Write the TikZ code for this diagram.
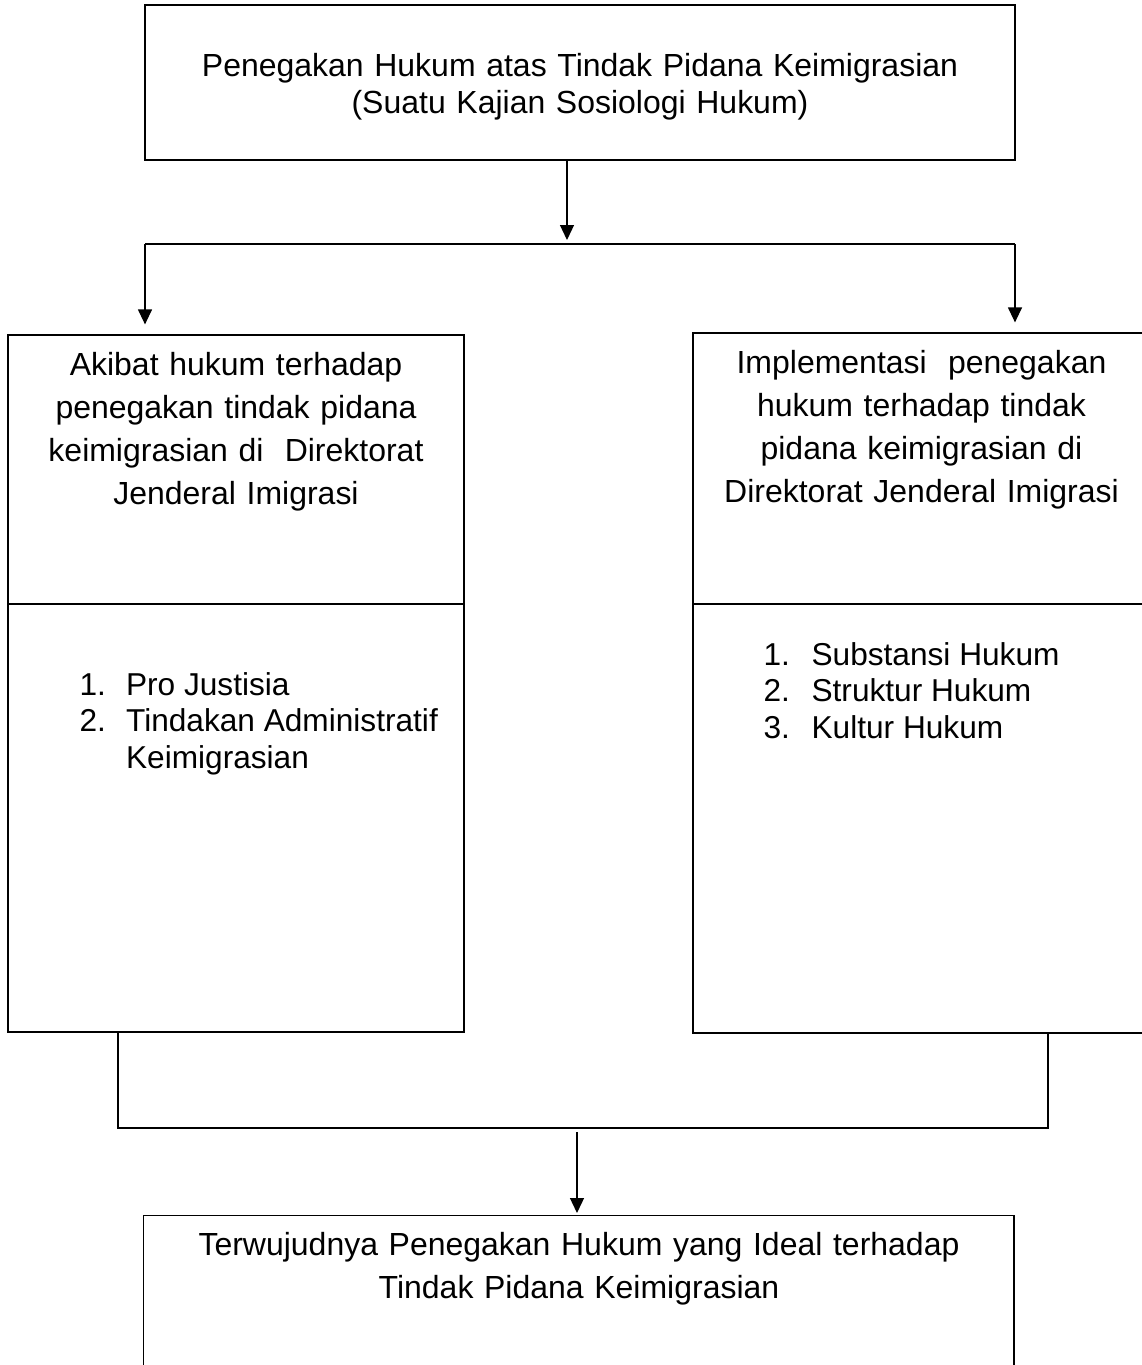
\documentclass[tikz,border=0pt]{standalone}
\usepackage{fontspec}
\setmainfont{Liberation Sans}
\usetikzlibrary{arrows.meta}

\begin{document}
\begin{tikzpicture}[line width=0.7pt,
    kotak/.style = {draw, rectangle, inner sep=0pt},
    teks/.style = {inner sep=0pt, align=center, font=\fontsize{18.2}{24.5}\selectfont},
    daftar/.style = {inner sep=0pt, anchor=base west, font=\fontsize{18}{20.8}\selectfont},
    panah/.style = {-{Triangle[length=0.3cm,width=0.28cm]}}]
\useasboundingbox (0,0) rectangle (22.84,-27.3);

\node[kotak, minimum width=17.4cm, minimum height=3.1cm] (judul) at (11.6,-1.65) {};
\node[teks, text width=17cm, anchor=base, font=\fontsize{18.2}{21.1}\selectfont] (judulteks) at (11.6,-1.52)
    {Penegakan Hukum atas Tindak Pidana Keimigrasian\\(Suatu Kajian Sosiologi Hukum)};

\node[kotak, minimum width=9.12cm, minimum height=5.38cm] (kiriatas) at (4.72,-9.39) {};
\node[kotak, minimum width=9.12cm, minimum height=8.56cm] (kiribawah) at (4.72,-16.36) {};
\node[kotak, minimum width=9.14cm, minimum height=5.42cm] (kananatas) at (18.43,-9.37) {};
\node[kotak, minimum width=9.14cm, minimum height=8.58cm] (kananbawah) at (18.43,-16.37) {};

\node[teks, text width=9cm, anchor=base] (kiriteks) at (4.72,-7.5)
    {Akibat hukum terhadap\\penegakan tindak pidana\\keimigrasian di\ \ Direktorat\\Jenderal Imigrasi};
\node[teks, text width=9cm, anchor=base] (kananteks) at (18.43,-7.46)
    {Implementasi\ \ penegakan\\hukum terhadap tindak\\pidana keimigrasian di\\Direktorat Jenderal Imigrasi};

\node[daftar] (kiridaftar) at (1.58,-13.9)
    {\begin{tabular}[t]{@{}p{0.93cm}@{}l@{}}
     1. & Pro Justisia\\
     2. & Tindakan Administratif\\
        & Keimigrasian
     \end{tabular}};
\node[daftar] (kanandaftar) at (15.26,-13.3)
    {\begin{tabular}[t]{@{}p{0.96cm}@{}l@{}}
     1. & Substansi Hukum\\
     2. & Struktur Hukum\\
     3. & Kultur Hukum
     \end{tabular}};

\node[kotak, minimum width=17.41cm, minimum height=3.7cm, anchor=north] (tujuan) at (11.575,-24.3) {};
\node[teks, text width=17cm, anchor=base] (tujuanteks) at (11.58,-25.1)
    {Terwujudnya Penegakan Hukum yang Ideal terhadap\\Tindak Pidana Keimigrasian};

% percabangan
\coordinate (pusat) at (11.34,-4.8);
\coordinate (cabangkiri) at (2.9,-4.88);
\coordinate (cabangkanan) at (20.3,-4.88);
\draw[panah] (judul.south -| pusat) -- (pusat);
\draw (cabangkiri) -- (cabangkanan);
\draw[panah, shorten >=0.2cm] (cabangkiri) -- (cabangkiri |- kiriatas.north);
\draw[panah, shorten >=0.2cm] (cabangkanan) -- (cabangkanan |- kananatas.north);

% penggabungan
\coordinate (gabungkiri) at (2.36,-22.56);
\coordinate (gabungkanan) at (20.96,-22.56);
\coordinate (turun) at (11.54,-22.64);
\draw (kiribawah.south -| gabungkiri) -- (gabungkiri) -- (gabungkanan) -- (kananbawah.south -| gabungkanan);
\draw[panah, shorten >=0.04cm] (turun) -- (turun |- tujuan.north);
\end{tikzpicture}
\end{document}
